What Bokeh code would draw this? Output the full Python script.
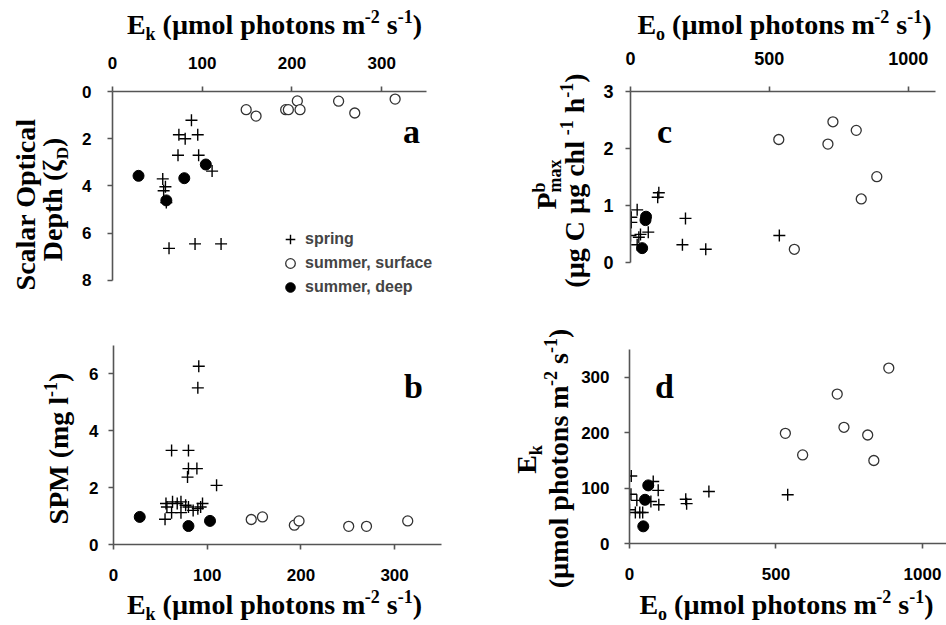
import math
from bokeh.plotting import figure
from bokeh.models import Range1d, FixedTicker, Label, Legend, LegendItem
from bokeh.layouts import column, row
from bokeh.embed import file_html
from bokeh.resources import INLINE

# ---------------- data ----------------
spring_a_ek = [88, 74, 81, 95, 73, 96, 111, 56, 59, 57, 60, 63, 92, 121]
spring_a_depth = [1.22, 1.83, 2.0, 1.83, 2.7, 2.7, 3.37, 3.7, 4.03, 4.2, 4.7, 6.64, 6.45, 6.45]
surface_a_ek = [149, 160, 193, 196, 206, 209, 252, 270, 315]
surface_a_depth = [0.77, 1.04, 0.77, 0.77, 0.40, 0.77, 0.41, 0.91, 0.32]
deep_a_ek = [29, 80, 60, 104]
deep_a_depth = [3.57, 3.67, 4.61, 3.09]

spring_b_ek = [91, 90, 62, 80, 80, 89, 79, 110, 55, 62, 72, 56, 57, 63, 68, 72, 77, 80, 85, 90, 95, 93]
spring_b_spm = [6.27, 5.51, 3.31, 3.31, 2.67, 2.67, 2.37, 2.08, 0.89, 1.12, 1.12,
                1.44, 1.32, 1.50, 1.44, 1.50, 1.38, 1.32, 1.20, 1.26, 1.44, 1.32]
surface_b_ek = [147, 159, 193, 198, 251, 270, 314]
surface_b_spm = [0.88, 0.97, 0.68, 0.83, 0.64, 0.64, 0.83]
deep_b_ek = [28, 80, 103]
deep_b_spm = [0.97, 0.65, 0.83]

spring_c_eo = [536, 102, 98, 198, 187, 271, 24, 3, 3, 0, 30, 36, 64, 24]
spring_c_pb = [0.48, 1.23, 1.15, 0.78, 0.32, 0.24, 0.93, 0.80, 0.71, 0.48, 0.45, 0.50, 0.54, 0.32]
surface_c_eo = [534, 590, 711, 729, 813, 831, 887]
surface_c_pb = [2.16, 0.24, 2.08, 2.47, 2.32, 1.12, 1.51]
deep_c_eo = [56, 54, 42]
deep_c_pb = [0.81, 0.75, 0.26]

spring_d_eo = [540, 271, 195, 192, 98, 100, 81, 6, 5, 25, 20, 35, 45, 0, 73]
spring_d_ek = [88, 94, 72, 80, 96, 70, 112, 122, 89, 78, 56, 56, 56, 61, 76]
surface_d_eo = [532, 591, 709, 732, 813, 834, 885]
surface_d_ek = [199, 160, 270, 210, 196, 150, 317]
deep_d_eo = [64, 53, 47]
deep_d_ek = [105, 79, 31]

ticks_ek = [0, 100, 200, 300]
ticks_depth = [0, 2, 4, 6, 8]
ticks_spm = [0, 2, 4, 6]
ticks_eo = [0, 500, 1000]
ticks_pb = [0, 1, 2, 3]
ticks_ek_d = [0, 100, 200, 300]

legend_labels = ["spring", "summer, surface", "summer, deep"]

# ---------------- helpers ----------------
SERIF = "Liberation Serif"
SANS = "Liberation Sans"
AXC = "#555555"
BASE_FIX = 0.31  # Bokeh anchors the bottom of the text box; lift it so the baseline sits at the anchor

TB = {' ': 250, '(': 333, ')': 333, '-': 333, ',': 250, '.': 250, 'µ': 556, 'ζ': 444,
      'A': 722, 'B': 667, 'C': 722, 'D': 722, 'E': 667, 'M': 944, 'O': 778, 'P': 611, 'S': 556,
      'a': 500, 'b': 556, 'c': 444, 'd': 556, 'e': 444, 'g': 500, 'h': 556, 'i': 278, 'k': 556,
      'l': 278, 'm': 833, 'n': 556, 'o': 500, 'p': 556, 'r': 444, 's': 389, 't': 333, 'x': 500}


def tw(s, size):
    return sum(TB.get(ch, 500) for ch in s) * size / 1000.0


def rich(p, segs, c, base, vertical=False):
    total = 0.0
    for t, sz, sh, adv in segs:
        if adv:
            total += tw(t, sz)
    pos = c - total / 2.0
    for t, sz, sh, adv in segs:
        lead = len(t) - len(t.lstrip(" "))
        start = pos + tw(" " * lead, sz)
        txt = t.strip(" ")
        fix = BASE_FIX * sz
        if vertical:
            lab = Label(x=base - sh - fix, y=start, x_units="screen", y_units="screen", text=txt,
                        angle=math.pi / 2, text_align="left", text_baseline="alphabetic")
        else:
            lab = Label(x=start, y=base + sh + fix, x_units="screen", y_units="screen", text=txt,
                        text_align="left", text_baseline="alphabetic")
        lab.text_font = SERIF
        lab.text_font_style = "bold"
        lab.text_font_size = f"{sz}px"
        lab.text_color = "black"
        p.add_layout(lab)
        if adv:
            pos += tw(t, sz)


def photon_segs(sym, sub, T=28, S=18):
    return [(sym, T, 0, True), (sub, S, -6, True), (" (µmol photons m", T, 0, True),
            ("-2", S, 11, True), (" s", T, 0, True), ("-1", S, 11, True), (")", T, 0, True)]


def text_fig(w, h):
    p = figure(width=w, height=h, x_range=Range1d(0, 1), y_range=Range1d(0, 1), title=None,
               x_axis_type=None, y_axis_type=None, output_backend="svg",
               toolbar_location=None, min_border=0)
    p.outline_line_color = None
    p.background_fill_color = "white"
    p.border_fill_color = "white"
    return p


def make_fig(w, h, bl, br, bt, bb, xr, yr, xloc):
    p = figure(width=w, height=h, x_range=xr, y_range=yr, output_backend="svg", title=None,
               toolbar_location=None, x_axis_location=xloc,
               min_border_left=bl, min_border_right=br, min_border_top=bt, min_border_bottom=bb)
    p.xgrid.visible = False
    p.ygrid.visible = False
    p.outline_line_color = None
    p.background_fill_color = "white"
    p.border_fill_color = "white"
    return p


def style_axis(ax, ticks, fsize, standoff, bounds):
    ax.ticker = FixedTicker(ticks=ticks)
    ax.bounds = bounds
    ax.minor_tick_line_color = None
    ax.major_tick_out = 5
    ax.major_tick_in = 0
    ax.axis_line_color = AXC
    ax.axis_line_width = 1.6
    ax.major_tick_line_color = AXC
    ax.major_tick_line_width = 1.6
    ax.major_label_text_font = SANS
    ax.major_label_text_font_style = "bold"
    ax.major_label_text_font_size = f"{fsize}px"
    ax.major_label_text_color = "black"
    ax.major_label_standoff = standoff
    ax.axis_label = None


def plot_series(p, sx, sy, ux, uy, dx, dy):
    r1 = p.scatter(sx, sy, marker="cross", size=12, line_color="black", line_width=1.4)
    r2 = p.scatter(ux, uy, marker="circle", size=10, line_color="#333333", line_width=1.3,
                   fill_color="white")
    r3 = p.scatter(dx, dy, marker="circle", size=11, line_color="black", fill_color="black")
    return r1, r2, r3


def letter(p, t, x, y):
    lab = Label(x=x, y=y + BASE_FIX * 34, x_units="screen", y_units="screen", text=t,
                text_align="center", text_baseline="alphabetic")
    lab.text_font = SERIF
    lab.text_font_style = "bold"
    lab.text_font_size = "34px"
    lab.text_color = "black"
    p.add_layout(lab)


# ---------------- panel a (page x 0..470, y 0..310) ----------------
ya = text_fig(76, 310)
rich(ya, [("Scalar Optical", 28, 0, True)], 106, 34, vertical=True)
rich(ya, [("Depth (ζ", 28, 0, True), ("D", 17, -6, True), (")", 28, 0, True)], 111, 61, vertical=True)
ta = text_fig(394, 45)          # its frame is aligned with pa's frame (starts at page x 112)
rich(ta, photon_segs("E", "k"), 162, 12)
pa = make_fig(394, 265, 36, 0, 46, 0, Range1d(0, 399), Range1d(9.27, 0), "above")
style_axis(pa.xaxis[0], ticks_ek, 17, 18, (0, 350))
style_axis(pa.yaxis[0], ticks_depth, 17, 16, (0, 8))
ra = plot_series(pa, spring_a_ek, spring_a_depth, surface_a_ek, surface_a_depth, deep_a_ek, deep_a_depth)
letter(pa, "a", 299, 168)
leg = Legend(items=[LegendItem(label=legend_labels[i], renderers=[ra[i]]) for i in range(3)],
             location=(166, 11))
leg.label_text_font = SANS
leg.label_text_font_style = "bold"
leg.label_text_font_size = "16px"
leg.background_fill_alpha = 0
leg.border_line_color = None
leg.padding = 0
leg.margin = 0
leg.spacing = 0
leg.glyph_width = 24
leg.glyph_height = 24
leg.label_height = 24
leg.label_standoff = 3
pa.add_layout(leg)

# ---------------- panel c (page x 470..946, y 0..310) ----------------
yc = text_fig(128, 310)
rich(yc, [("P", 28, 0, True), ("b", 18, 11, False), ("max", 18, -5, True)], 126, 85, vertical=True)
rich(yc, [("(µg C µg chl ", 28, 0, True), ("-1", 18, 11, True), (" h", 28, 0, True),
          ("-1", 18, 11, True), (")", 28, 0, True)], 130, 113, vertical=True)
tc = text_fig(348, 45)          # frame starts at page x 630
rich(tc, photon_segs("E", "o"), 154, 12)
pc = make_fig(348, 265, 32, 0, 46, 0, Range1d(0, 1138), Range1d(-0.831, 3), "above")
style_axis(pc.xaxis[0], ticks_eo, 18, 22, (0, 1100))
style_axis(pc.yaxis[0], ticks_pb, 18, 12, (0, 3))
plot_series(pc, spring_c_eo, spring_c_pb, surface_c_eo, surface_c_pb, deep_c_eo, deep_c_pb)
letter(pc, "c", 34, 168)

# ---------------- panel b (page x 0..470, y 310..625) ----------------
yb = text_fig(82, 315)
rich(yb, [("SPM (mg l", 28, 0, True), ("-1", 18, 11, True), (")", 28, 0, True)], 177, 67, vertical=True)
pb = make_fig(388, 278, 31, 0, 0, 44, Range1d(0, 381), Range1d(0, 8.23), "below")
style_axis(pb.xaxis[0], ticks_ek, 17, 19, (0, 350))
style_axis(pb.yaxis[0], ticks_spm, 17, 10, (0, 7))
plot_series(pb, spring_b_ek, spring_b_spm, surface_b_ek, surface_b_spm, deep_b_ek, deep_b_spm)
letter(pb, "b", 300, 147)
tb = text_fig(388, 37)          # frame starts at page x 113
rich(tb, photon_segs("E", "k"), 161, 12)

# ---------------- panel d (page x 470..946, y 310..625) ----------------
yd = text_fig(108, 315)
rich(yd, [("E", 28, 0, True), ("k", 18, -6, True)], 166, 65, vertical=True)
rich(yd, [("(µmol photons m", 28, 0, True), ("-2", 18, 11, True), (" s", 28, 0, True),
          ("-1", 18, 11, True), (")", 28, 0, True)], 167, 97, vertical=True)
pd_ = make_fig(368, 278, 50, 0, 0, 45, Range1d(0, 1082), Range1d(0, 421), "below")
style_axis(pd_.xaxis[0], ticks_eo, 17, 19, "auto")
style_axis(pd_.yaxis[0], ticks_ek_d, 17, 15, (0, 350))
plot_series(pd_, spring_d_eo, spring_d_ek, surface_d_eo, surface_d_ek, deep_d_eo, deep_d_ek)
letter(pd_, "d", 35, 146)
td = text_fig(368, 37)          # frame starts at page x 628
rich(td, photon_segs("E", "o"), 157, 12)

left = column(row(ya, column(ta, pa)), row(yb, column(pb, tb)))
right = column(row(yc, column(tc, pc)), row(yd, column(pd_, td)))
layout = row(left, right)
open("out.html", "w").write(file_html(layout, INLINE))
